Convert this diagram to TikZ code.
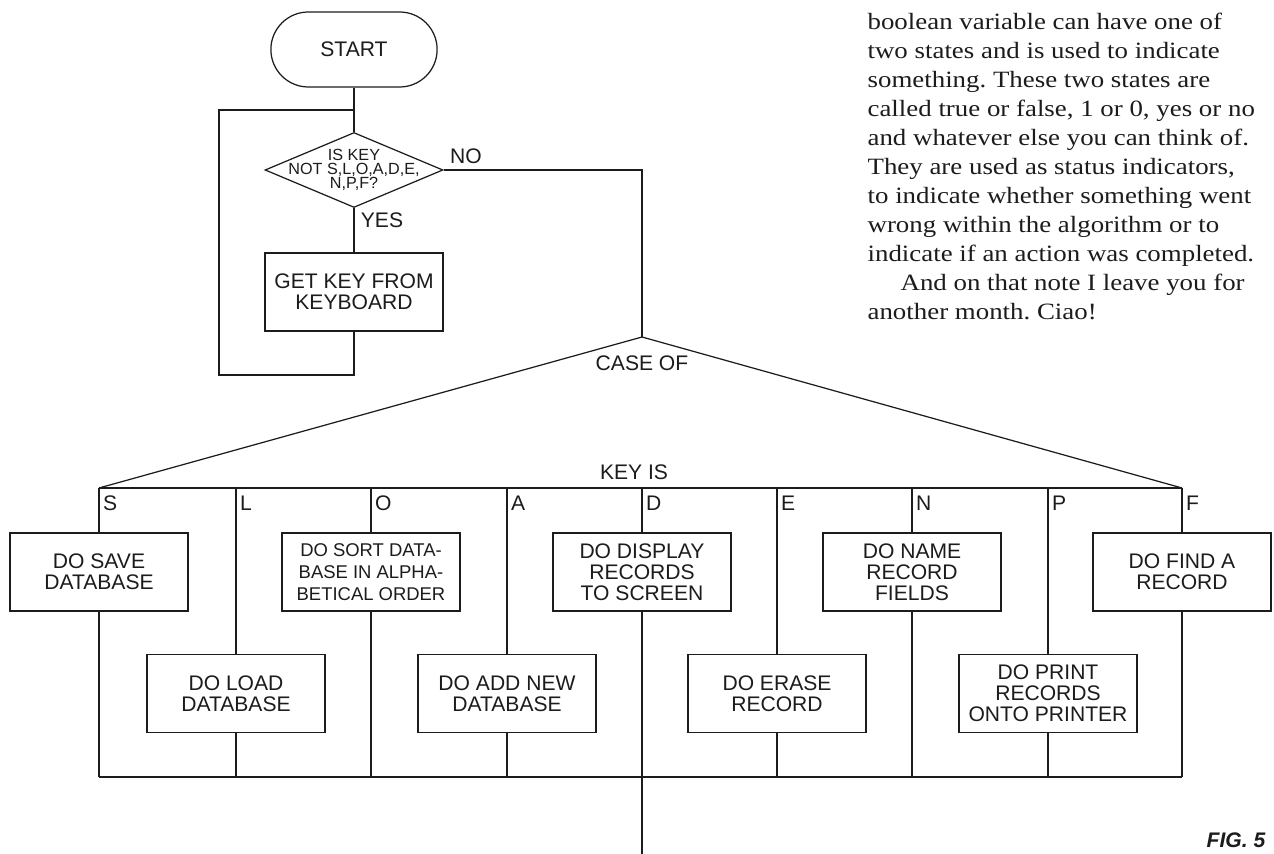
\documentclass[tikz,border=0pt]{standalone}
\usepackage{fontspec}
\setmainfont{Liberation Serif}
\setsansfont{Liberation Sans}
\newfontfamily\columnfont[FakeStretch=1.15]{Liberation Serif}
\usetikzlibrary{shapes.geometric, shapes.misc, positioning}
\definecolor{ink}{HTML}{1C1C1C}
\definecolor{paper}{HTML}{FFFFFF}
\frenchspacing

\begin{document}
\begin{tikzpicture}[x=0.02cm, y=-0.02cm, line width=0.7pt, color=ink,
  terminal/.style={draw, rounded rectangle, minimum width=3.56cm, minimum height=1.5cm,
                   font=\sffamily\fontsize{12}{12}\selectfont},
  decision/.style={draw, diamond, minimum width=3.56cm, minimum height=1.5cm, inner sep=0pt},
  process/.style={draw, rectangle, minimum width=3.56cm, minimum height=1.56cm, align=center,
                  inner sep=2pt, font=\sffamily\fontsize{12}{12}\selectfont},
  tag/.style={font=\sffamily\fontsize{12}{12}\selectfont, inner sep=2pt},
  keytag/.style={tag, anchor=west}]

% Page
\fill[paper] (0,0) rectangle (1274,854);
\useasboundingbox (0,0) rectangle (1274,854);

% ========== Key input loop ==========
\node[terminal] (start) at (354,49.5) {START};
\node[decision, label={[font=\sffamily\fontsize{9.2}{8}\selectfont, align=center]center:IS KEY\\NOT S,L,O,A,D,E,\\N,P,F?}]
  (test) at (354,170) {};
\node[process] (getkey) at (354,292) {GET KEY FROM\\KEYBOARD};

\coordinate (loopjoin) at (354,110);
\coordinate (loopbot) at (354,375);
\coordinate (loopleft) at (219,375);

\draw (start.south) -- (test.north);
\draw (test.south) -- (getkey.north);
\draw (getkey.south) -- (loopbot) -- (loopleft) |- (loopjoin);

\node[tag] (yes) at (382,220) {YES};
\node[tag] (no) at (466,156) {NO};

% ========== Case structure ==========
\coordinate (apex) at (642,337);
\draw (test.east) -| (apex);
\node[tag] (caseof) at (642,363) {CASE OF};
\node[tag] (keyis) at (634,472) {KEY IS};

% branch points on the bar
\coordinate (barS) at (99,488);
\coordinate (barL) at (236,488);
\coordinate (barO) at (371,488);
\coordinate (barA) at (507,488);
\coordinate (barD) at (642,488);
\coordinate (barE) at (777,488);
\coordinate (barN) at (912,488);
\coordinate (barP) at (1048,488);
\coordinate (barF) at (1182,488);

% join points at the bottom
\coordinate (joinS) at (99,777);
\coordinate (joinL) at (236,777);
\coordinate (joinO) at (371,777);
\coordinate (joinA) at (507,777);
\coordinate (joinD) at (642,777);
\coordinate (joinE) at (777,777);
\coordinate (joinN) at (912,777);
\coordinate (joinP) at (1048,777);
\coordinate (joinF) at (1182,777);
\coordinate (exit) at (642,854);

\draw (barS) -- (apex) -- (barF);
\draw (barS) -- (barF);

% case letters
\node[keytag] (keyS) at (99,503) {S};
\node[keytag] (keyL) at (236,503) {L};
\node[keytag] (keyO) at (371,503) {O};
\node[keytag] (keyA) at (507,503) {A};
\node[keytag] (keyD) at (642,503) {D};
\node[keytag] (keyE) at (777,503) {E};
\node[keytag] (keyN) at (912,503) {N};
\node[keytag] (keyP) at (1048,503) {P};
\node[keytag] (keyF) at (1182,503) {F};

% upper row of actions
\node[process] (save) at (99,572) {DO SAVE\\DATABASE};
\node[process, font=\sffamily\fontsize{10.5}{12.4}\selectfont] (sort) at (371,572)
  {DO SORT DATA-\\BASE IN ALPHA-\\BETICAL ORDER};
\node[process] (display) at (642,572) {DO DISPLAY\\RECORDS\\TO SCREEN};
\node[process] (name) at (912,572) {DO NAME\\RECORD\\FIELDS};
\node[process] (find) at (1182,572) {DO FIND A\\RECORD};

% lower row of actions
\node[process] (load) at (236,693.5) {DO LOAD\\DATABASE};
\node[process] (add) at (507,693.5) {DO ADD NEW\\DATABASE};
\node[process] (erase) at (777,693.5) {DO ERASE\\RECORD};
\node[process] (print) at (1048,693.5) {DO PRINT\\RECORDS\\ONTO PRINTER};

% branch lines
\draw (barS) -- (save.north);   \draw (save.south) -- (joinS);
\draw (barL) -- (load.north);   \draw (load.south) -- (joinL);
\draw (barO) -- (sort.north);   \draw (sort.south) -- (joinO);
\draw (barA) -- (add.north);    \draw (add.south) -- (joinA);
\draw (barD) -- (display.north);\draw (display.south) -- (joinD);
\draw (barE) -- (erase.north);  \draw (erase.south) -- (joinE);
\draw (barN) -- (name.north);   \draw (name.south) -- (joinN);
\draw (barP) -- (print.north);  \draw (print.south) -- (joinP);
\draw (barF) -- (find.north);   \draw (find.south) -- (joinF);

\draw (joinS) -- (joinF);
\draw (joinD) -- (exit);

% ========== Text column ==========
\node[anchor=base west, align=left, inner sep=0pt, font=\columnfont\fontsize{13.3}{16.56}\selectfont]
  (column) at (867,320)
  {boolean variable can have one of\\
   two states and is used to indicate\\
   something. These two states are\\
   called true or false, 1 or 0, yes or no\\
   and whatever else you can think of.\\
   They are used as status indicators,\\
   to indicate whether something went\\
   wrong within the algorithm or to\\
   indicate if an action was completed.\\
   \hspace*{0.66cm}And on that note I leave you for\\
   another month. Ciao!};

% Figure number
\node[font=\sffamily\bfseries\itshape\fontsize{12}{12}\selectfont] (figno) at (1236,840) {FIG. 5};

\end{tikzpicture}
\end{document}
